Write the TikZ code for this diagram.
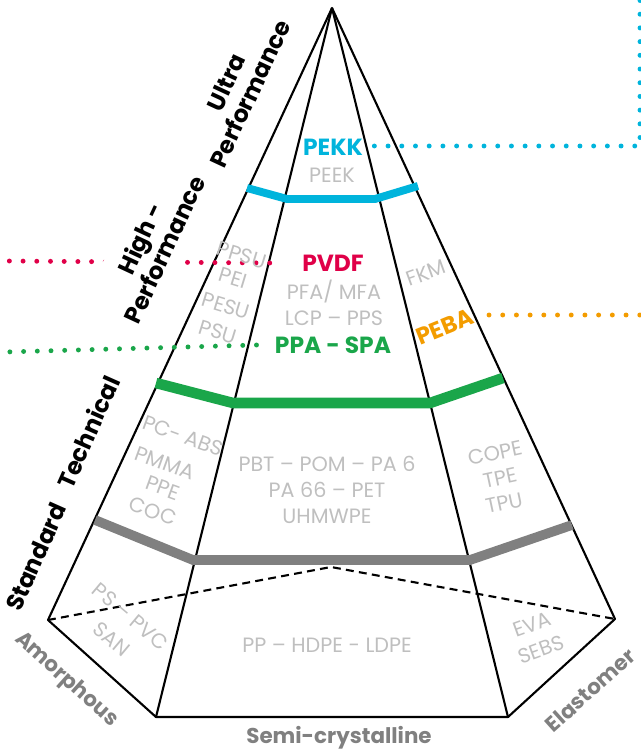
\documentclass[tikz,border=0pt]{standalone}
\usepackage{fontspec}
\setmainfont{Poppins}
\usetikzlibrary{positioning,calc}
\definecolor{ultracol}{RGB}{0,180,220}
\definecolor{highcol}{RGB}{224,0,72}
\definecolor{techcol}{RGB}{26,166,74}
\definecolor{elastcol}{RGB}{243,156,0}
\definecolor{stdcol}{RGB}{128,128,128}
\definecolor{polycol}{RGB}{191,191,191}
\tikzset{
  edge/.style={line width=1.2pt, line join=round},
  hidden/.style={line width=1.2pt, dash pattern=on 4.5pt off 3pt},
  band/.style={line width=#1, line join=miter},
  lead/.style={line width=2.8pt, line cap=round, dash pattern=on 0pt off 7.8pt},
  tier/.style={font=\bfseries\fontsize{13.5}{15}\selectfont, align=center, rotate=65},
  grade/.style={text=stdcol, font=\bfseries\fontsize{12.2}{14}\selectfont},
  family/.style={font=\bfseries\fontsize{13.3}{15}\selectfont},
  poly/.style={text=polycol, font=\fontsize{11.8}{15}\selectfont, align=center, inner sep=1pt}
}
\begin{document}
\begin{tikzpicture}[x=0.02cm, y=-0.02cm]
            \useasboundingbox (0,0) rectangle (641,753);
            % pyramid corners
            \coordinate (apex) at (332,8);
            \coordinate (L) at (48,620);
            \coordinate (FL) at (156,717);
            \coordinate (FR) at (508,717);
            \coordinate (R) at (615,619);
            \coordinate (B) at (331,567);
            \draw[hidden] (L) -- (B) -- (R);
            \draw[edge] (apex) -- (L) -- (FL) -- (FR) -- (R) -- cycle;
            \draw[edge] (apex) -- (FL);
            \draw[edge] (apex) -- (FR);
            % bands
            \draw[band=4.5pt, ultracol] (247,188) -- (287,199) -- (375,199) -- (418,186);
            \draw[band=6pt, techcol] (156,383) -- (233,403) -- (430,403) -- (503,378);
            \draw[band=5.5pt, stdcol] (95,520) -- (193,560) -- (470,560) -- (572,525);
            % family names
            \node[family, text=ultracol] (pekk) at (333,147) {PEKK};
            \node[family, text=highcol] (pvdf) at (333,263) {PVDF};
            \node[family, text=techcol] (ppa) at (333,345) {PPA - SPA};
            \node[family, text=elastcol, rotate=22] (peba) at (445,327) {PEBA};
            % leaders
            \coordinate (ucorner) at (640,146);
            \coordinate (ufree) at (640,-4);
            \coordinate (hfree) at (8,261);
            \coordinate (tfree) at (5,352);
            \coordinate (efree) at (645,315);
            \draw[lead, ultracol] ([xshift=3pt]pekk.east |- ucorner) -- (ucorner) -- (ufree);
            \draw[lead, highcol] ([xshift=-15pt]pvdf.west) -- (hfree);
            \draw[lead, techcol] ([xshift=-7pt]ppa.west) -- (tfree);
            \draw[lead, elastcol] (489,315) -- (efree);
            % tiers
            \node[tier] (ultra) at (238,88) {Ultra\\Performance};
            \node[tier, fill=white, inner xsep=2pt, inner ysep=8pt] (high) at (152,244) {High -\\Performance};
            \node[tier, rotate=1] (tech) at (88,432) {Technical};
            \node[tier, rotate=1] (std) at (36,557) {Standard};
            % grades
            \node[grade, rotate=-42] (amorph) at (66,680) {Amorphous};
            \node[grade] (semi) at (339,738) {Semi-crystalline};
            \node[grade, rotate=42] (elast) at (590,690) {Elastomer};
            % polymers
            \node[poly] (peek) at (332,175) {PEEK};
            \node[poly] (pfa) at (334,303) {PFA/ MFA\\LCP – PPS};
            \node[poly, rotate=-17] (ppsu) at (242,255) {PPSU};
            \node[poly, rotate=-17] (pei) at (233,278) {PEI};
            \node[poly, rotate=-17] (pesu) at (226,306) {PESU};
            \node[poly, rotate=-17] (psu) at (218,332) {PSU};
            \node[poly, rotate=20] (fkm) at (426,273) {FKM};
            \node[poly, rotate=-20] (pcabs) at (183,436) {PC- ABS};
            \node[poly, rotate=-20] (pmma) at (165,463) {PMMA};
            \node[poly, rotate=-20] (ppe) at (163,488) {PPE};
            \node[poly, rotate=-20] (coc) at (153,511) {COC};
            \node[poly] (pbt) at (327,490) {PBT – POM – PA 6\\PA 66 – PET\\UHMWPE};
            \node[poly, rotate=12] (cope) at (495,453) {COPE};
            \node[poly, rotate=12] (tpe) at (500,478) {TPE};
            \node[poly, rotate=12] (tpu) at (504,503) {TPU};
            \node[poly, font=\fontsize{11.8}{17}\selectfont, rotate=-40] (pspvc) at (121,628) {PS – PVC\\SAN};
            \node[poly] (pp) at (327,645) {PP – HDPE - LDPE};
            \node[poly, rotate=20] (eva) at (537,637) {EVA\\SEBS};
        \end{tikzpicture}
\end{document}
